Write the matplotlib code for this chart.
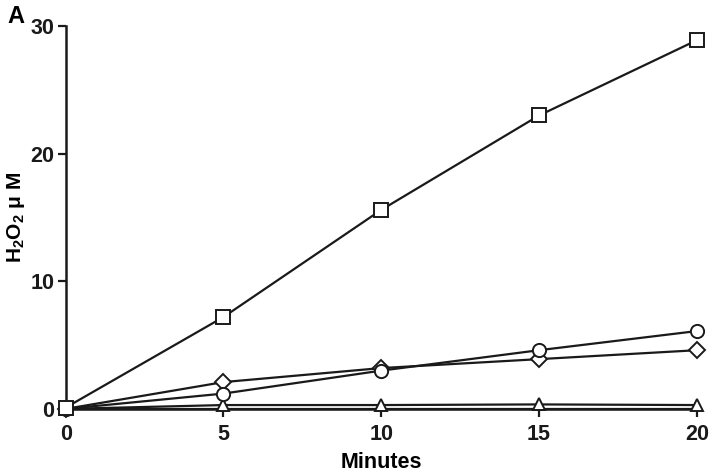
import matplotlib
matplotlib.use("Agg")
import matplotlib.pyplot as plt
from matplotlib import font_manager

names = {f.name for f in font_manager.fontManager.ttflist}
narrow = 'Liberation Sans Narrow' if 'Liberation Sans Narrow' in names else 'Liberation Sans'
plt.rcParams['font.family'] = [narrow, 'DejaVu Sans']
plt.rcParams['font.weight'] = 'bold'
plt.rcParams['mathtext.fontset'] = 'custom'
plt.rcParams['mathtext.rm'] = narrow + ':bold'
plt.rcParams['mathtext.default'] = 'rm'

minutes = [0, 5, 10, 15, 20]
square = [0.1, 7.2, 15.6, 23.0, 28.9]
circle = [0.0, 1.2, 3.0, 4.6, 6.1]
diamond = [0.0, 2.1, 3.2, 3.9, 4.6]
triangle = [0.0, 0.3, 0.3, 0.35, 0.3]
baseline = [0.0, 0.0, 0.0, 0.0, 0.0]

xticks = [0, 5, 10, 15, 20]
yticks = [0, 10, 20, 30]

fig = plt.figure(figsize=(7.14, 4.76), dpi=100)
ax = fig.add_axes([0.092, 0.141, 0.884, 0.804])

kw = dict(color='#1a1a1a', lw=1.6, mfc='white', mec='#1a1a1a', mew=1.4, clip_on=False, zorder=3)
ax.plot(minutes, baseline, marker=None, **kw)
ax.plot(minutes, triangle, marker='^', ms=9, **kw)
ax.plot(minutes, diamond, marker='D', ms=8, **kw)
ax.plot(minutes, circle, marker='o', ms=9.5, **kw)
ax.plot(minutes, square, marker='s', ms=9.5, **kw)

ax.set_xlim(0, 20)
ax.set_ylim(0, 30)
ax.set_xticks(xticks)
ax.set_yticks(yticks)
for s in ['top', 'right']:
    ax.spines[s].set_visible(False)
for s in ['left', 'bottom']:
    ax.spines[s].set_linewidth(1.8)
    ax.spines[s].set_color('#1a1a1a')
ax.tick_params(direction='out', length=6, width=1.6, labelsize=15.5, colors='#1a1a1a')
ax.tick_params(axis='x', pad=5)
ax.tick_params(axis='y', pad=2)
for lab in ax.get_xticklabels() + ax.get_yticklabels():
    lab.set_fontweight('bold')

ax.set_xlabel('Minutes', fontsize=15.5, fontweight='bold')
ax.xaxis.set_label_coords(0.5, -0.112)
ax.set_ylabel(r'H$_2$O$_2$ $\mathregular{\mu}$ M', fontsize=15, fontweight='bold')
ax.yaxis.set_label_coords(-0.062, 0.5)
fig.text(0.011, 0.965, 'A', fontsize=17, fontweight='bold', va='center', ha='left')

fig.savefig('out.png', dpi=100)
